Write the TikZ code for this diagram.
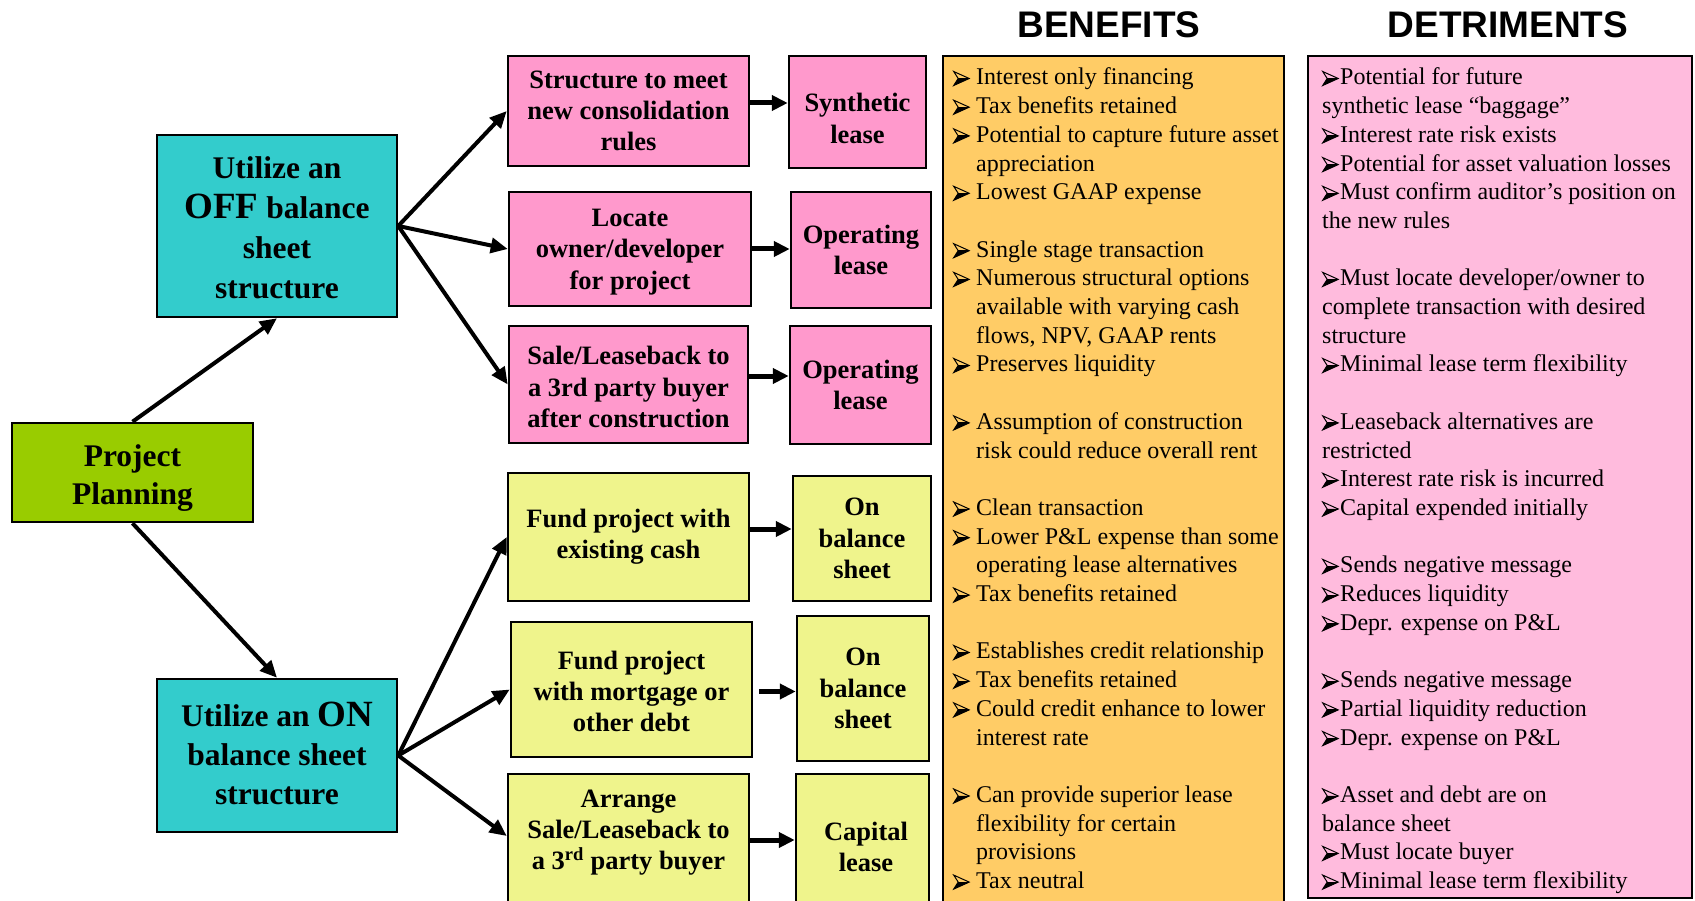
\documentclass[tikz,border=0pt]{standalone}
\usepackage{fontspec}
\setmainfont{Liberation Serif}
\newfontfamily\arialfont{Liberation Sans}
\usepackage{graphicx}
\usetikzlibrary{arrows.meta}
\definecolor{cpink}{HTML}{FF99CC}
\definecolor{ccyan}{HTML}{33CCCC}
\definecolor{cgreen}{HTML}{99CC00}
\definecolor{cyel}{HTML}{EFF48C}
\definecolor{corange}{HTML}{FFCC66}
\definecolor{clpink}{HTML}{FFBBDD}
\newsavebox\bulbox
\newcommand{\bul}{\usebox\bulbox}
\newcommand{\bb}{\makebox[23pt][l]{\bul}}
\newcommand{\ind}{\hspace*{23pt}}
\newcommand{\db}{\makebox[18pt][l]{\bul}}
\newcommand{\bigw}[1]{{\fontsize{37}{40}\selectfont #1}}
\begin{document}
\sbox\bulbox{\pgfpicture
  \pgfsetbaseline{0pt}%
  \pgfsetlinewidth{1pt}\pgfsetmiterjoin
  \pgfpathmoveto{\pgfpoint{0pt}{-0.5pt}}\pgfpathlineto{\pgfpoint{15.5pt}{6.5pt}}\pgfpathlineto{\pgfpoint{4.5pt}{6.5pt}}\pgfpathclose\pgfusepath{fill}%
  \pgfpathmoveto{\pgfpoint{0pt}{13.5pt}}\pgfpathlineto{\pgfpoint{15.5pt}{6.5pt}}\pgfpathlineto{\pgfpoint{0pt}{-0.5pt}}\pgfpathlineto{\pgfpoint{4.5pt}{6.5pt}}\pgfpathclose\pgfusepath{stroke}%
  \pgfsetlinewidth{0.8pt}%
  \pgfpathmoveto{\pgfpoint{4.5pt}{6.5pt}}\pgfpathlineto{\pgfpoint{15.5pt}{6.5pt}}\pgfusepath{stroke}%
\endpgfpicture}%
\begin{tikzpicture}[x=1pt,y=-1pt,
  box/.style={draw=black, line width=2.5pt, inner sep=0pt, align=center,
    font=\bfseries\fontsize{26.5}{31.3}\selectfont},
  mainbox/.style={box, font=\bfseries\fontsize{31.5}{40}\selectfont},
  plain/.style={inner sep=0pt, align=center, font=\bfseries\fontsize{26.5}{31.3}\selectfont},
  title/.style={inner sep=0pt, font=\arialfont\bfseries\fontsize{37}{40}\selectfont},
  darr/.style={line width=4pt, -{Triangle[length=17pt,width=15pt]}},
  harr/.style={line width=5pt, -{Triangle[length=16pt,width=15pt]}}
]
\useasboundingbox (0,0) rectangle (1695,901);
\fill[white] (0,0) rectangle (1695,901);

% left column
\node[mainbox, fill=cgreen, minimum width=241pt, minimum height=99pt] (pp) at (132.5,472.5) {};
\node[plain, font=\bfseries\fontsize{31.5}{38}\selectfont] (ppt) at (132.5,478) {Project\\Planning};
\node[mainbox, fill=ccyan, minimum width=240pt, minimum height=182pt] (off) at (277,226) {};
\node[plain, font=\bfseries\fontsize{31.5}{40}\selectfont] (offt) at (277,228) {Utilize an\\\bigw{OFF} balance\\sheet\\structure};
\node[mainbox, fill=ccyan, minimum width=240pt, minimum height=153pt] (on) at (277,755.5) {};
\node[plain, font=\bfseries\fontsize{31.5}{39}\selectfont] (ont) at (277,753.5) {Utilize an \bigw{ON}\\balance sheet\\structure};

% pink column
\node[box, fill=cpink, minimum width=241pt, minimum height=110pt] (p1) at (628.5,111) {Structure to meet\\new consolidation\\rules};
\node[box, fill=cpink, minimum width=137pt, minimum height=112pt] (s1) at (857.5,112) {};
\node[plain] (s1t) at (857.5,118.5) {Synthetic\\lease};
\node[box, fill=cpink, minimum width=242pt, minimum height=114pt] (p2) at (630,249) {};
\node[plain] (p2t) at (630,252) {Locate\\owner/developer\\for project};
\node[box, fill=cpink, minimum width=140pt, minimum height=116pt] (o2) at (861,250) {Operating\\lease};
\node[box, fill=cpink, minimum width=239pt, minimum height=117pt] (p3) at (628.5,384.5) {};
\node[plain] (p3t) at (628.5,387) {Sale/Leaseback to\\a 3rd party buyer\\after construction};
\node[box, fill=cpink, minimum width=141pt, minimum height=118pt] (o3) at (860.5,385) {Operating\\lease};

% yellow column
\node[box, fill=cyel, minimum width=241pt, minimum height=128pt] (y1) at (628.5,537) {Fund project with\\existing cash};
\node[box, fill=cyel, minimum width=138pt, minimum height=125pt] (b1) at (862,538.5) {On\\balance\\sheet};
\node[box, fill=cyel, minimum width=241pt, minimum height=135pt] (y2) at (631.5,689.5) {};
\node[plain] (y2t) at (631.5,691.5) {Fund project\\with mortgage or\\other debt};
\node[box, fill=cyel, minimum width=132pt, minimum height=145pt] (b2) at (863,688.5) {On\\balance\\sheet};
\node[box, fill=cyel, minimum width=241pt, minimum height=156pt] (y3) at (628.5,852) {};
\node[plain] (y3t) at (628.5,832.5) {Arrange\\Sale/Leaseback to\\a 3\textsuperscript{rd} party buyer};
\node[box, fill=cyel, minimum width=133pt, minimum height=156pt] (c3) at (862.5,852) {};
\node[plain] (c3t) at (866,847) {Capital\\lease};

% benefit / detriment panels
\node[title] (tb) at (1109,25) {BENEFITS};
\node[title] (td) at (1508,25) {DETRIMENTS};
\node[draw=black, line width=2.5pt, fill=corange, minimum width=341pt, minimum height=874pt, inner sep=0pt] (ben) at (1113.5,493) {};
\node[draw=black, line width=2.5pt, fill=clpink, minimum width=384pt, minimum height=842pt, inner sep=0pt] (det) at (1500,477) {};

\node[anchor=base west, inner sep=0pt] (bt) at (953,85) {\parbox[t]{330pt}{\raggedright\fontsize{24}{28.7}\selectfont
\bb Interest only financing\\
\bb Tax benefits retained\\
\bb Potential to capture future asset\\
\ind appreciation\\
\bb Lowest GAAP expense\\
\mbox{}\\
\bb Single stage transaction\\
\bb Numerous structural options\\
\ind available with varying cash\\
\ind flows, NPV, GAAP rents\\
\bb Preserves liquidity\\
\mbox{}\\
\bb Assumption of construction\\
\ind risk could reduce overall rent\\
\mbox{}\\
\bb Clean transaction\\
\bb Lower P\&L expense than some\\
\ind operating lease alternatives\\
\bb Tax benefits retained\\
\mbox{}\\
\bb Establishes credit relationship\\
\bb Tax benefits retained\\
\bb Could credit enhance to lower\\
\ind interest rate\\
\mbox{}\\
\bb Can provide superior lease\\
\ind flexibility for certain\\
\ind provisions\\
\bb Tax neutral}};

\node[anchor=base west, inner sep=0pt] (dt) at (1322,85) {\parbox[t]{365pt}{\raggedright\fontsize{24}{28.7}\selectfont
\db Potential for future\\
synthetic lease “baggage”\\
\db Interest rate risk exists\\
\db Potential for asset valuation losses\\
\db Must confirm auditor’s position on\\
the new rules\\
\mbox{}\\
\db Must locate developer/owner to\\
complete transaction with desired\\
structure\\
\db Minimal lease term flexibility\\
\mbox{}\\
\db Leaseback alternatives are\\
restricted\\
\db Interest rate risk is incurred\\
\db Capital expended initially\\
\mbox{}\\
\db Sends negative message\\
\db Reduces liquidity\\
\db Depr. expense on P\&L\\
\mbox{}\\
\db Sends negative message\\
\db Partial liquidity reduction\\
\db Depr. expense on P\&L\\
\mbox{}\\
\db Asset and debt are on\\
balance sheet\\
\db Must locate buyer\\
\db Minimal lease term flexibility}};

% connectors
\draw[darr] (pp.north) -- (off.south);
\draw[darr] (pp.south) -- (on.north);
\draw[darr] (off.east) -- (p1.west);
\draw[darr] (off.east) -- (p2.west);
\draw[darr] (off.east) -- (p3.west);
\draw[darr] (on.east) -- (y1.west);
\draw[darr] (on.east) -- (y2.west);
\draw[darr] (on.east) -- ([yshift=16pt]y3.west);

\draw[harr] ([yshift=8pt]p1.east) -- ([yshift=8pt]p1.east -| s1.west);
\draw[harr] (p2.east) -- (p2.east -| o2.west);
\draw[harr] ([yshift=8.5pt]p3.east) -- ([yshift=8.5pt]p3.east -| o3.west);
\draw[harr] ([yshift=8pt]y1.east) -- ([yshift=8pt]y1.east -| b1.west);
\draw[harr] ([xshift=6pt,yshift=-2pt]y2.east) -- ([yshift=-2pt]y2.east -| b2.west);
\draw[harr] ([yshift=12pt]y3.east) -- ([yshift=12pt]y3.east -| c3.west);
\end{tikzpicture}
\end{document}
